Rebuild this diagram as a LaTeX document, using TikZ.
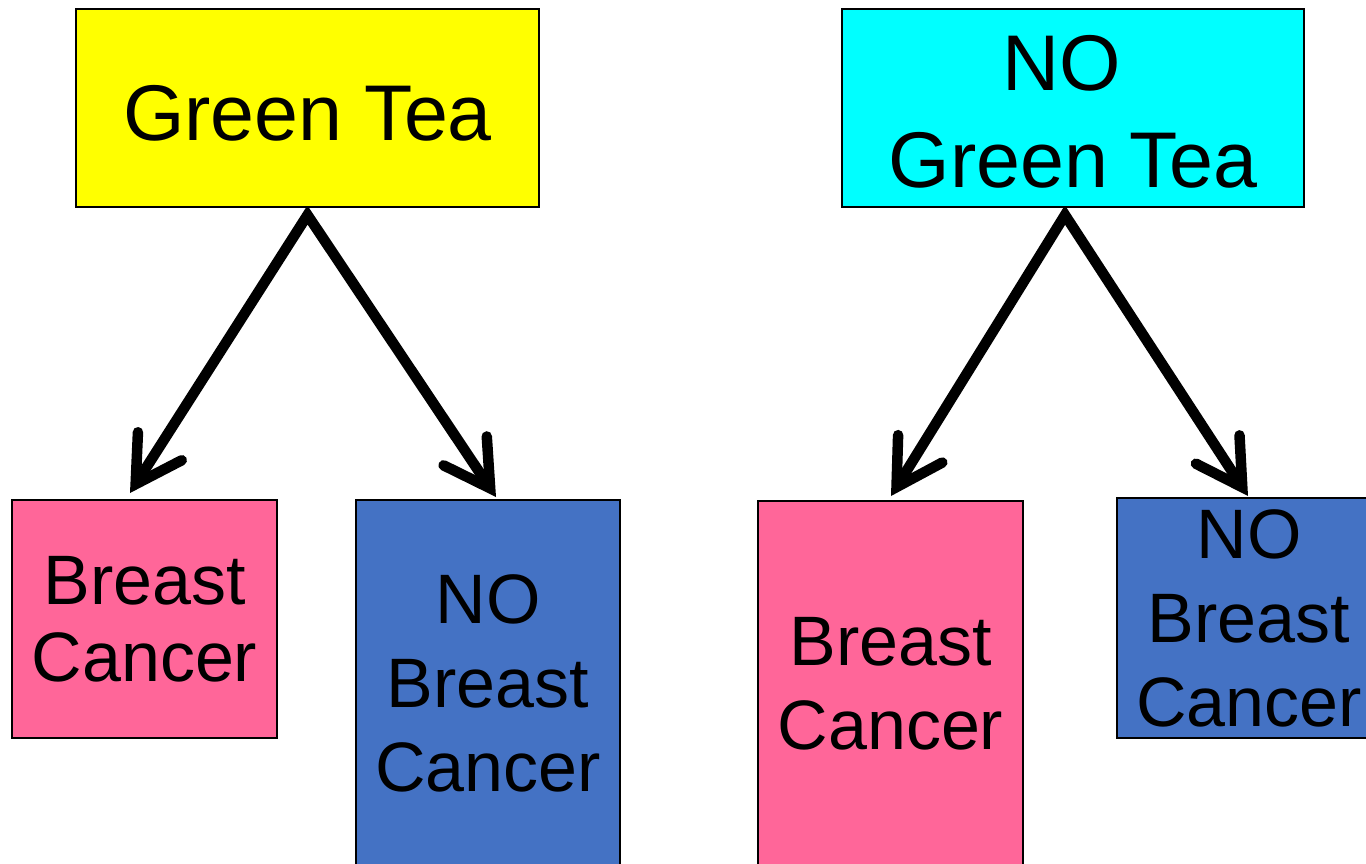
\documentclass[tikz,border=0pt]{standalone}
\usepackage{fontspec}
\setmainfont{Liberation Sans}
\usetikzlibrary{arrows.meta}
\pgfdeclarelayer{bg}
\pgfsetlayers{bg,main}
\definecolor{tyellow}{HTML}{FFFF00}
\definecolor{tcyan}{HTML}{00FFFF}
\definecolor{tpink}{HTML}{FF6699}
\definecolor{tblue}{HTML}{4472C4}
\begin{document}
\begin{tikzpicture}[x=1pt,y=-1pt,
  box/.style={draw=black, line width=2pt, inner sep=0pt, outer sep=0pt,
              anchor=north west, align=center},
  bigtext/.style={font=\fontsize{79}{97}\selectfont},
  smalltext/.style={font=\fontsize{70}{84}\selectfont},
  connector/.style={line width=10.5pt, line join=miter,
     {Straight Barb[length=45pt,width=52pt,line cap=round]}-{Straight Barb[length=45pt,width=52pt,line cap=round]}}]
\useasboundingbox (0,0) rectangle (1366,863);
\clip (0,0) rectangle (1366,863);
% top boxes
\node[box, fill=tyellow, bigtext, minimum width=463pt, minimum height=198pt] (gt) at (76,9) {\rule{0pt}{66pt}Green Tea};
\node[box, fill=tcyan, bigtext, minimum width=462pt, minimum height=198pt] (ngt) at (842,9) {\rule{0pt}{62pt}NO\hspace*{0.28em}\\Green Tea};
% bottom boxes
\node[box, fill=tpink, font=\fontsize{70}{77}\selectfont, minimum width=265pt, minimum height=238pt] (bc1) at (12,500) {Breast\\Cancer};
\node[box, fill=tblue, smalltext, minimum width=264pt, minimum height=366pt] (nbc1) at (356,500) {NO\\Breast\\Cancer};
\node[box, fill=tpink, smalltext, minimum width=265pt, minimum height=366pt] (bc2) at (758,501) {Breast\\Cancer};
\node[box, fill=tblue, smalltext, minimum width=264pt, minimum height=240pt] (nbc2) at (1117,498) {NO\\Breast\\Cancer};
% connectors
\begin{pgfonlayer}{bg}
\draw[connector] ([xshift=-14.5pt,yshift=7pt]bc1.north) -- ([yshift=-8pt]gt.south) -- ([xshift=8pt,yshift=3pt]nbc1.north);
\draw[connector] ([xshift=0.5pt,yshift=5pt]bc2.north) -- ([yshift=-8pt,xshift=-8pt]ngt.south) -- ([xshift=-1pt,yshift=2pt]nbc2.north);
\end{pgfonlayer}
\end{tikzpicture}
\end{document}
